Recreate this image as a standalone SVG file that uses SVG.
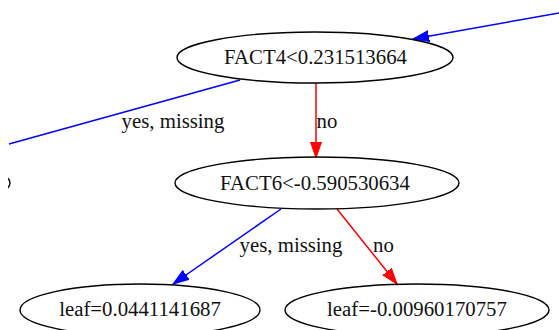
<svg xmlns="http://www.w3.org/2000/svg" width="559" height="330" viewBox="0 0 559 330">
  <style>
    .node ellipse { fill: none; stroke: #000; stroke-width: 1.4; }
    .node text, .lbl { font-family: "Liberation Serif", "Times New Roman", serif; font-size: 20.8px; fill: #111; text-anchor: middle; }
    .yes { stroke: #0000ff; stroke-width: 1.5; fill: none; marker-end: url(#ahBlue); }
    .no { stroke: #ff0000; stroke-width: 1.5; fill: none; marker-end: url(#ahRed); }
    .open { marker-end: none; }
  </style>
  <defs>
    <marker id="ahBlue" markerUnits="userSpaceOnUse" markerWidth="18" markerHeight="14" refX="16" refY="6" orient="auto" viewBox="0 0 18 12">
      <path d="M0,0.5 L16,6 L0,11.5 z" fill="#0000ff" stroke="#0000ff" stroke-width="1"/>
    </marker>
    <marker id="ahRed" markerUnits="userSpaceOnUse" markerWidth="18" markerHeight="14" refX="16" refY="6" orient="auto" viewBox="0 0 18 12">
      <path d="M0,0.5 L16,6 L0,11.5 z" fill="#ff0000" stroke="#ff0000" stroke-width="1"/>
    </marker>
    <clipPath id="leftEdge">
      <rect x="8" y="0" width="551" height="330"/>
    </clipPath>
  </defs>

  <rect width="559" height="330" fill="#fff"/>

  <!-- connectors -->
  <g id="edges">
    <path class="yes" d="M559,13 L413,39"/>
    <path class="yes open" d="M240,80 L9,144"/>
    <path class="no" d="M316,83 L316,158"/>
    <path class="yes" d="M281,209 L173,284"/>
    <path class="no" d="M337,209 L397,284"/>
    <text class="lbl" x="173" y="128">yes, missing</text>
    <text class="lbl" x="327" y="128">no</text>
    <text class="lbl" x="291" y="252">yes, missing</text>
    <text class="lbl" x="383.5" y="252">no</text>
  </g>

  <!-- nodes -->
  <g id="n-fact4" class="node">
    <ellipse cx="315" cy="57.5" rx="138" ry="25.5"/>
    <text x="315.5" y="64">FACT4&lt;0.231513664</text>
  </g>
  <g id="n-fact6" class="node">
    <ellipse cx="317" cy="183" rx="142" ry="26"/>
    <text x="315" y="190">FACT6&lt;-0.590530634</text>
  </g>
  <g id="n-leaf-a" class="node">
    <ellipse cx="140" cy="310" rx="120" ry="26"/>
    <text x="140" y="316">leaf=0.0441141687</text>
  </g>
  <g id="n-leaf-b" class="node">
    <ellipse cx="417" cy="310" rx="132" ry="26"/>
    <text x="417" y="316">leaf=-0.00960170757</text>
  </g>
  <g id="n-left" class="node" clip-path="url(#leftEdge)">
    <ellipse cx="-125" cy="183" rx="135" ry="26"/>
  </g>
</svg>
